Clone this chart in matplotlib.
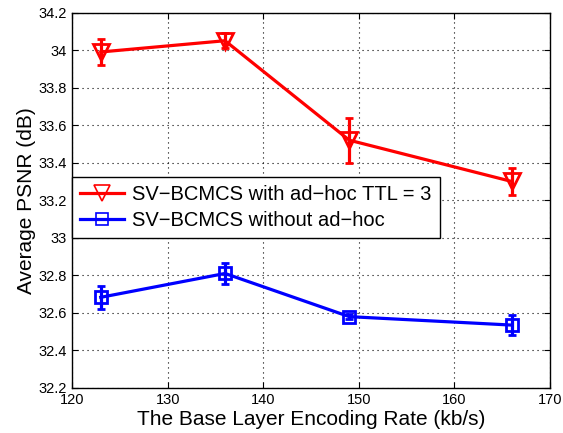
import matplotlib
matplotlib.use('Agg')
import matplotlib.pyplot as plt
from matplotlib.lines import Line2D

plt.rcParams['font.family'] = ['Liberation Sans', 'DejaVu Sans']

rate = [123, 136, 149, 166]
psnr_adhoc = [33.99, 34.05, 33.52, 33.30]
err_adhoc = [0.07, 0.04, 0.12, 0.07]
psnr_plain = [32.683, 32.81, 32.58, 32.535]
err_plain = [0.062, 0.057, 0.012, 0.052]
labels = ['SV\u2212BCMCS with ad\u2212hoc TTL = 3', 'SV\u2212BCMCS without ad\u2212hoc']

fig = plt.figure(figsize=(5.63, 4.33), dpi=100)
ax = fig.add_axes([0.128, 0.104, 0.849, 0.867])

ax.errorbar(rate, psnr_adhoc, yerr=err_adhoc, color='red', lw=2.3, marker='v',
            ms=12, mfc='none', mec='red', mew=2, capsize=3, capthick=2.3,
            elinewidth=2.3)
ax.errorbar(rate, psnr_plain, yerr=err_plain, color='blue', lw=2.3, marker='s',
            ms=8.5, mfc='none', mec='blue', mew=2, capsize=3, capthick=2.3,
            elinewidth=2.3)

ax.set_xlim(120, 170)
ax.set_ylim(32.2, 34.2)
ax.set_xticks(range(120, 171, 10))
ax.set_yticks([32.2 + 0.2 * i for i in range(11)])
ax.set_yticklabels(['32.2', '32.4', '32.6', '32.8', '33', '33.2', '33.4', '33.6', '33.8', '34', '34.2'])
ax.tick_params(direction='in', labelsize=10.5, top=True, right=True, length=4)
ax.grid(True, ls=(0, (1, 3.5)), color='black', lw=0.8)
for s in ax.spines.values():
    s.set_linewidth(1.0)

ax.set_xlabel('The Base Layer Encoding Rate (kb/s)', fontsize=15, labelpad=2)
ax.set_ylabel('Average PSNR (dB)', fontsize=15, labelpad=2)

handles = [Line2D([], [], color='red', lw=2.3, marker='v', ms=11, mfc='none', mec='red', mew=1.2),
           Line2D([], [], color='blue', lw=2.3, marker='s', ms=9, mfc='none', mec='blue', mew=1.2)]
leg = ax.legend(handles, labels, loc='upper left', bbox_to_anchor=(0.0, 0.563),
                fontsize=14.5, frameon=True, fancybox=False, edgecolor='black',
                framealpha=1, handlelength=2.2, borderaxespad=0.0,
                handletextpad=0.4, labelspacing=0.35, borderpad=0.4)
leg.get_frame().set_linewidth(1.0)

fig.savefig('out.png', dpi=100)
